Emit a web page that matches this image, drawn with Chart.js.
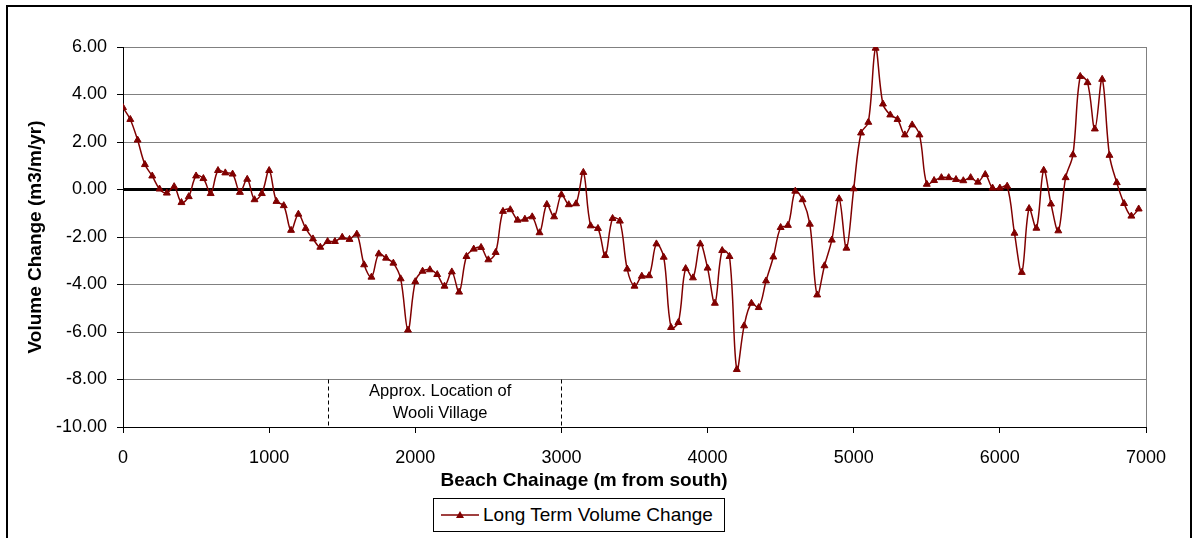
<!DOCTYPE html>
<html>
<head>
<meta charset="utf-8">
<script src="https://cdn.jsdelivr.net/npm/chart.js@4/dist/chart.umd.min.js"></script>
<style>
  body { margin: 0; background: #fff; }
  #wrap { position: relative; width: 1192px; height: 538px; overflow: hidden; }
  #frame { position: absolute; left: 6px; top: 5px; width: 1186px; height: 600px; box-sizing: border-box; border: 2px solid #000; }
  #chart { position: absolute; left: 0; top: 0; }
  #legend { position: absolute; left: 433px; top: 498px; width: 292px; height: 34px; box-sizing: border-box;
    border: 1px solid #000; background: #fff; font-family: "Liberation Sans", Arial, sans-serif; font-size: 19px; }
  #legend svg { position: absolute; left: 7px; top: 0; }
  #legend span { position: absolute; left: 49px; top: 0; line-height: 32px; white-space: nowrap; }
</style>
</head>
<body>
<div id="wrap">
  <div id="frame"></div>
  <canvas id="chart" width="1192" height="538"></canvas>
  <div id="legend">
    <svg width="38" height="32"><line x1="0" y1="16" x2="38" y2="16" stroke="#800000" stroke-width="1.5"/><polygon points="19,12 23,19 15,19" fill="#800000"/></svg>
    <span>Long Term Volume Change</span>
  </div>
</div>
<script>
// chainage (m from south)
const chainage = [
  0, 50, 100, 150, 200, 250, 300, 350, 400, 450,
  500, 550, 600, 650, 700, 750, 800, 850, 900, 950,
  1000, 1050, 1100, 1150, 1200, 1250, 1300, 1350, 1400, 1450,
  1500, 1550, 1600, 1650, 1700, 1750, 1800, 1850, 1900, 1950,
  2000, 2050, 2100, 2150, 2200, 2250, 2300, 2350, 2400, 2450,
  2500, 2550, 2600, 2650, 2700, 2750, 2800, 2850, 2900, 2950,
  3000, 3050, 3100, 3150, 3200, 3250, 3300, 3350, 3400, 3450,
  3500, 3550, 3600, 3650, 3700, 3750, 3800, 3850, 3900, 3950,
  4000, 4050, 4100, 4150, 4200, 4250, 4300, 4350, 4400, 4450,
  4500, 4550, 4600, 4650, 4700, 4750, 4800, 4850, 4900, 4950,
  5000, 5050, 5100, 5150, 5200, 5250, 5300, 5350, 5400, 5450,
  5500, 5550, 5600, 5650, 5700, 5750, 5800, 5850, 5900, 5950,
  6000, 6050, 6100, 6150, 6200, 6250, 6300, 6350, 6400, 6450,
  6500, 6550, 6600, 6650, 6700, 6750, 6800, 6850, 6900, 6950
];

// long term volume change (m3/m/yr)
const volumeChange = [
  3.45, 2.95, 2.08, 1.05, 0.57, 0.02, -0.15, 0.12, -0.55, -0.30,
  0.57, 0.46, -0.17, 0.80, 0.70, 0.65, -0.12, 0.43, -0.43, -0.17,
  0.80, -0.50, -0.68, -1.72, -1.04, -1.64, -2.08, -2.43, -2.19, -2.19,
  -2.01, -2.10, -1.88, -3.17, -3.69, -2.71, -2.89, -3.10, -3.76, -5.92,
  -3.88, -3.44, -3.38, -3.58, -4.07, -3.47, -4.32, -2.82, -2.51, -2.44,
  -2.96, -2.65, -0.92, -0.85, -1.29, -1.25, -1.15, -1.82, -0.63, -1.15,
  -0.22, -0.64, -0.60, 0.72, -1.53, -1.64, -2.78, -1.22, -1.33, -3.35,
  -4.07, -3.65, -3.63, -2.29, -2.85, -5.81, -5.60, -3.33, -3.72, -2.29,
  -3.31, -4.79, -2.57, -2.82, -7.58, -5.74, -4.79, -4.97, -3.85, -2.84,
  -1.60, -1.51, -0.07, -0.43, -1.46, -4.44, -3.21, -2.13, -0.39, -2.47,
  0.03, 2.38, 2.83, 5.95, 3.60, 3.14, 2.95, 2.30, 2.72, 2.30,
  0.22, 0.38, 0.50, 0.50, 0.42, 0.37, 0.50, 0.31, 0.63, 0.06,
  0.06, 0.14, -1.84, -3.49, -0.80, -1.63, 0.81, -0.61, -1.74, 0.50,
  1.46, 4.76, 4.50, 2.55, 4.64, 1.44, 0.29, -0.59, -1.12, -0.82
];

// approx. extent of Wooli Village (m)
const villageStart = 1400;
const villageEnd = 3000;

const FONT = '"Liberation Sans", Arial, sans-serif';

const extras = {
  id: "extras",
  afterDraw(chart) {
    const { ctx, chartArea, scales } = chart;
    const x = scales.x, y = scales.y;
    ctx.save();
    // plot area right border
    ctx.strokeStyle = "#808080";
    ctx.lineWidth = 1;
    ctx.beginPath();
    ctx.moveTo(chartArea.right + 0.5, chartArea.top);
    ctx.lineTo(chartArea.right + 0.5, chartArea.bottom);
    ctx.stroke();

    // village markers
    ctx.strokeStyle = "#000";
    ctx.setLineDash([4, 3]);
    [villageStart, villageEnd].forEach(v => {
      const px = Math.round(x.getPixelForValue(v)) + 0.5;
      ctx.beginPath();
      ctx.moveTo(px, y.getPixelForValue(-8));
      ctx.lineTo(px, y.getPixelForValue(-10));
      ctx.stroke();
    });
    ctx.setLineDash([]);
    ctx.fillStyle = "#000";
    ctx.font = "16.5px " + FONT;
    ctx.textAlign = "center";
    ctx.textBaseline = "middle";
    const cx = x.getPixelForValue(2170);
    ctx.fillText("Approx. Location of", cx, chartArea.bottom - 36);
    ctx.fillText("Wooli Village", cx, chartArea.bottom - 14);

    // x axis title
    ctx.font = "bold 19px " + FONT;
    ctx.fillText("Beach Chainage (m from south)", 584, 481);
    ctx.restore();
  }
};

new Chart(document.getElementById("chart"), {
  type: "line",
  data: {
    datasets: [{
      label: "Long Term Volume Change",
      data: chainage.map((c, i) => ({ x: c, y: volumeChange[i] })),
      borderColor: "#800000",
      backgroundColor: "#800000",
      borderWidth: 1.5,
      pointStyle: "triangle",
      pointRadius: 4,
      pointBorderWidth: 1,
      tension: 0.35,
      fill: false
    }]
  },
  options: {
    responsive: false,
    animation: false,
    devicePixelRatio: 1,
    layout: { padding: { left: 0, top: 47, right: 46, bottom: 0 } },
    plugins: { legend: { display: false }, tooltip: { enabled: false } },
    scales: {
      x: {
        type: "linear",
        min: 0,
        max: 7000,
        afterFit: s => { s.height = 111; },
        ticks: { stepSize: 1000, color: "#000", padding: 14, font: { family: FONT, size: 18 }, callback: v => String(v) },
        grid: { drawOnChartArea: false, drawTicks: true, tickLength: 6, tickColor: "#000" },
        border: { color: "#000", width: 1 }
      },
      y: {
        min: -10,
        max: 6,
        afterFit: s => { s.width = 123; },
        ticks: { stepSize: 2, color: "#000", padding: 10, font: { family: FONT, size: 18 }, callback: v => v.toFixed(2) },
        grid: {
          color: c => (c.tick.value === 0 || c.tick.value === -10) ? "#000" : "#808080",
          lineWidth: c => c.tick.value === 0 ? 3 : 1,
          tickLength: 6,
          tickWidth: 1,
          tickColor: "#000"
        },
        border: { color: "#000", width: 1 },
        title: {
          display: true,
          text: "Volume Change (m3/m/yr)",
          color: "#000",
          font: { family: FONT, size: 19, weight: "bold" },
          padding: { top: 24, bottom: 0 }
        }
      }
    }
  },
  plugins: [extras]
});
</script>
</body>
</html>
